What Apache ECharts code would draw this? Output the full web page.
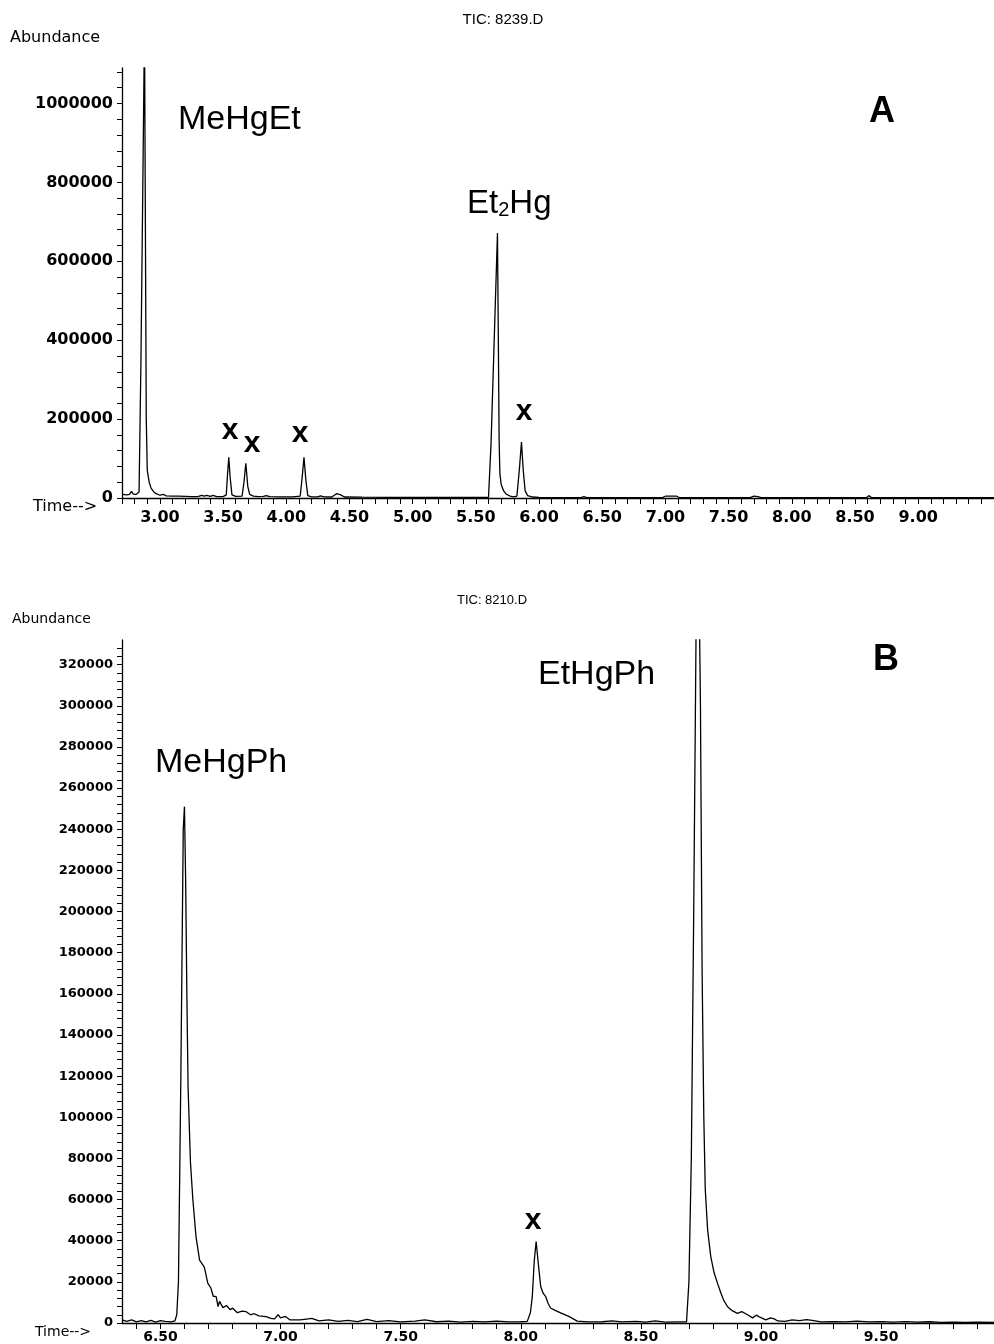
<!DOCTYPE html>
<html>
<head>
<meta charset="utf-8">
<script src="https://cdn.jsdelivr.net/npm/echarts@6/dist/echarts.min.js"></script>
<style>
  html, body { margin: 0; padding: 0; background: #fff; }
  #chart { width: 994px; height: 1344px; }
</style>
</head>
<body>
<div id="chart"></div>
<script>
// Panel A: TIC 8239.D (retention time in min, abundance)
const timeA = [
  2.70, 2.74, 2.76, 2.775, 2.79, 2.81, 2.835, 2.85, 2.865, 2.878,
  2.885, 2.892, 2.90, 2.915, 2.93, 2.95, 2.97, 3.00, 3.03, 3.05,
  3.10, 3.15, 3.20, 3.25, 3.30, 3.33, 3.35, 3.37, 3.40, 3.42,
  3.45, 3.50, 3.525, 3.535, 3.545, 3.555, 3.57, 3.60, 3.65, 3.665,
  3.68, 3.695, 3.71, 3.725, 3.74, 3.78, 3.82, 3.84, 3.87, 3.95,
  4.05, 4.11, 4.125, 4.14, 4.155, 4.17, 4.20, 4.25, 4.27, 4.30,
  4.36, 4.38, 4.40, 4.43, 4.46, 4.60, 4.80, 5.00, 5.20, 5.40,
  5.60, 5.607, 5.62, 5.64, 5.66, 5.671, 5.678, 5.684, 5.69, 5.70,
  5.72, 5.74, 5.77, 5.80, 5.825, 5.845, 5.861, 5.875, 5.89, 5.91,
  5.95, 6.00, 6.20, 6.33, 6.355, 6.38, 6.60, 6.80, 6.98, 7.00,
  7.05, 7.09, 7.11, 7.40, 7.67, 7.70, 7.73, 7.76, 8.00, 8.30,
  8.59, 8.61, 8.63, 9.00, 9.30, 9.60
];
const abundA = [
  9000, 8000, 9000, 17000, 10000, 9000, 15000, 350000, 800000, 1200000,
  700000, 200000, 70000, 40000, 25000, 16000, 11000, 7000, 9000, 5500,
  5000, 4500, 4000, 3500, 3500, 6500, 5000, 6500, 4000, 6500,
  3500, 3500, 8000, 60000, 103000, 55000, 8000, 4000, 4500, 40000,
  88000, 30000, 9000, 13000, 5000, 3500, 4000, 6000, 3500, 3000,
  3000, 5000, 50000, 103000, 45000, 6000, 3000, 3000, 5500, 3000,
  2500, 7000, 11000, 8000, 2500, 2000, 1500, 1500, 1500, 1500,
  1500, 3000, 136000, 346000, 556000, 672000, 400000, 150000, 63000, 35000,
  18000, 10000, 5000, 3000, 5000, 75000, 142000, 70000, 18000, 6000,
  2500, 1500, 1200, 1200, 3500, 1200, 1000, 1000, 1500, 4500,
  5000, 4500, 1200, 1000, 1000, 4500, 3500, 1000, 800, 800,
  800, 6000, 1000, 800, 800, 800
];

// Panel B: TIC 8210.D
const timeB = [
  6.34, 6.36, 6.38, 6.40, 6.42, 6.44, 6.46, 6.48, 6.50, 6.52,
  6.545, 6.56, 6.568, 6.575, 6.585, 6.595, 6.60, 6.605, 6.61, 6.615,
  6.625, 6.635, 6.648, 6.663, 6.675, 6.683, 6.697, 6.71, 6.72, 6.732,
  6.74, 6.746, 6.76, 6.775, 6.79, 6.801, 6.82, 6.84, 6.857, 6.875,
  6.89, 6.91, 6.94, 6.96, 6.975, 6.99, 7.00, 7.02, 7.04, 7.08,
  7.10, 7.13, 7.16, 7.20, 7.24, 7.28, 7.32, 7.36, 7.40, 7.45,
  7.50, 7.56, 7.60, 7.65, 7.70, 7.75, 7.80, 7.85, 7.90, 7.95,
  8.00, 8.027, 8.04, 8.048, 8.056, 8.064, 8.072, 8.083, 8.093, 8.104,
  8.114, 8.124, 8.145, 8.166, 8.20, 8.235, 8.28, 8.34, 8.38, 8.42,
  8.48, 8.52, 8.56, 8.60, 8.65, 8.69, 8.70, 8.71, 8.72, 8.73,
  8.738, 8.748, 8.755, 8.762, 8.768, 8.778, 8.791, 8.805, 8.82, 8.833,
  8.845, 8.861, 8.88, 8.902, 8.92, 8.944, 8.965, 8.98, 8.993, 9.02,
  9.04, 9.055, 9.07, 9.10, 9.13, 9.16, 9.19, 9.22, 9.25, 9.30,
  9.35, 9.40, 9.45, 9.50, 9.55, 9.60, 9.65, 9.70, 9.75, 9.80,
  9.85, 9.90, 9.97
];
const abundB = [
  1500, 800, 1500, 500, 1200, 600, 1300, 400, 1200, 800,
  500, 1000, 4000, 20000, 120000, 240000, 251000, 215000, 160000, 115000,
  78000, 60000, 42000, 30600, 28500, 27000, 19400, 17000, 13000, 12800,
  8000, 10500, 7500, 8500, 6500, 7200, 5000, 5800, 5500, 4000,
  4500, 3500, 3100, 2200, 2000, 4000, 2500, 3200, 1500, 1500,
  1800, 2200, 1000, 1500, 800, 1300, 700, 1800, 700, 1200,
  500, 900, 1500, 600, 900, 400, 800, 500, 900, 500,
  600, 800, 5000, 12800, 30000, 39600, 30000, 17700, 14500, 12800,
  9500, 7300, 6000, 4900, 3200, 900, 500, 600, 1000, 500,
  800, 400, 1000, 400, 500, 500, 20000, 80000, 200000, 340000,
  400000, 300000, 170000, 100000, 65000, 45000, 32300, 24300, 19000, 14600,
  11000, 7900, 6000, 4700, 5500, 4000, 2500, 3800, 3000, 1500,
  2500, 2000, 1000, 800, 1500, 1200, 1600, 1200, 500, 700,
  500, 900, 500, 700, 400, 700, 400, 600, 300, 400,
  300, 400, 300
];

// axis ticks and labels
const xLabelsA = [3.0, 3.5, 4.0, 4.5, 5.0, 5.5, 6.0, 6.5, 7.0, 7.5, 8.0, 8.5, 9.0];
const xLabelsB = [6.5, 7.0, 7.5, 8.0, 8.5, 9.0, 9.5];
const yLabelsA = [0, 200000, 400000, 600000, 800000, 1000000];
const yLabelsB = [0, 20000, 40000, 60000, 80000, 100000, 120000, 140000, 160000,
  180000, 200000, 220000, 240000, 260000, 280000, 300000, 320000];

const xTicksA = [];
for (let i = 27; i <= 96; i++) xTicksA.push(i / 10);
const xTicksB = [];
for (let i = 64; i <= 99; i++) xTicksB.push(i / 10);
const yTicksA = [];
for (let v = 0; v <= 1080000; v += 40000) yTicksA.push(v);
const yTicksB = [];
for (let v = 0; v <= 328000; v += 4000) yTicksB.push(v);

const chart = echarts.init(document.getElementById("chart"));

const axisLine = { show: true, lineStyle: { color: "#000", width: 1.3 } };
const tickStyle = { color: "#000", width: 1 };

function xAxisOf(grid, min, max, ticks, labels, fontSize, margin) {
  return {
    type: "value", gridIndex: grid, min, max,
    axisLine: { ...axisLine, onZero: false },
    axisTick: { show: true, customValues: ticks, length: 6, lineStyle: tickStyle },
    axisLabel: {
      customValues: labels, color: "#000", fontFamily: "DejaVu Sans",
      fontWeight: "bold", fontSize, margin,
      formatter: (v) => v.toFixed(2),
    },
    splitLine: { show: false },
  };
}

function yAxisOf(grid, max, ticks, labels, fontSize) {
  return {
    type: "value", gridIndex: grid, min: 0, max,
    axisLine: axisLine,
    axisTick: { show: true, customValues: ticks, length: 5, lineStyle: tickStyle },
    axisLabel: {
      customValues: labels, color: "#000", fontFamily: "DejaVu Sans",
      fontWeight: "bold", fontSize, margin: 9,
      formatter: (v) => String(Math.round(v)),
    },
    splitLine: { show: false },
  };
}

const text = (x, y, str, font, align) => ({
  type: "text", x, y,
  style: { text: str, font, fill: "#000", textAlign: align || "left", textVerticalAlign: "middle" },
});

chart.setOption({
  animation: false,
  backgroundColor: "#fff",
  grid: [
    { left: 122, right: 0, top: 68, height: 430 },
    { left: 122, right: 0, top: 640, height: 683 },
  ],
  xAxis: [
    xAxisOf(0, 2.70, 9.60, xTicksA, xLabelsA, 16, 12),
    xAxisOf(1, 6.34, 9.97, xTicksB, xLabelsB, 14, 7),
  ],
  yAxis: [
    yAxisOf(0, 1090000, yTicksA, yLabelsA, 16),
    yAxisOf(1, 332000, yTicksB, yLabelsB, 13),
  ],
  series: [
    {
      type: "line", xAxisIndex: 0, yAxisIndex: 0, showSymbol: false,
      data: timeA.map((t, i) => [t, abundA[i]]),
      lineStyle: { color: "#000", width: 1.3 },
    },
    {
      type: "line", xAxisIndex: 1, yAxisIndex: 1, showSymbol: false,
      data: timeB.map((t, i) => [t, abundB[i]]),
      lineStyle: { color: "#000", width: 1.3 },
    },
  ],
  graphic: [
    text(503, 20, "TIC: 8239.D", "15px 'Liberation Sans'", "center"),
    text(10, 38, "Abundance", "16px 'DejaVu Sans'"),
    text(33, 507, "Time-->", "16px 'DejaVu Sans'"),
    text(178, 120, "MeHgEt", "34px 'Liberation Sans'"),
    {
      type: "text", x: 467, y: 200,
      style: {
        text: "{a|Et}{b|2}{a|Hg}", fill: "#000", textVerticalAlign: "middle",
        rich: {
          a: { fontFamily: "Liberation Sans", fontSize: 33, lineHeight: 40, verticalAlign: "bottom" },
          b: { fontFamily: "Liberation Sans", fontSize: 20, lineHeight: 20, verticalAlign: "bottom" },
        },
      },
    },
    text(882, 112, "A", "bold 36px 'Liberation Sans'", "center"),
    text(230, 431, "x", "bold 30px 'Liberation Sans'", "center"),
    text(252, 444, "x", "bold 30px 'Liberation Sans'", "center"),
    text(300, 434, "x", "bold 30px 'Liberation Sans'", "center"),
    text(524, 412, "x", "bold 30px 'Liberation Sans'", "center"),

    text(492, 600, "TIC: 8210.D", "13px 'Liberation Sans'", "center"),
    text(12, 619, "Abundance", "14px 'DejaVu Sans'"),
    text(35, 1332, "Time-->", "14px 'DejaVu Sans'"),
    text(155, 763, "MeHgPh", "34px 'Liberation Sans'"),
    text(538, 675, "EtHgPh", "34px 'Liberation Sans'"),
    text(886, 660, "B", "bold 36px 'Liberation Sans'", "center"),
    text(533, 1221, "x", "bold 30px 'Liberation Sans'", "center"),
  ],
});
</script>
</body>
</html>
